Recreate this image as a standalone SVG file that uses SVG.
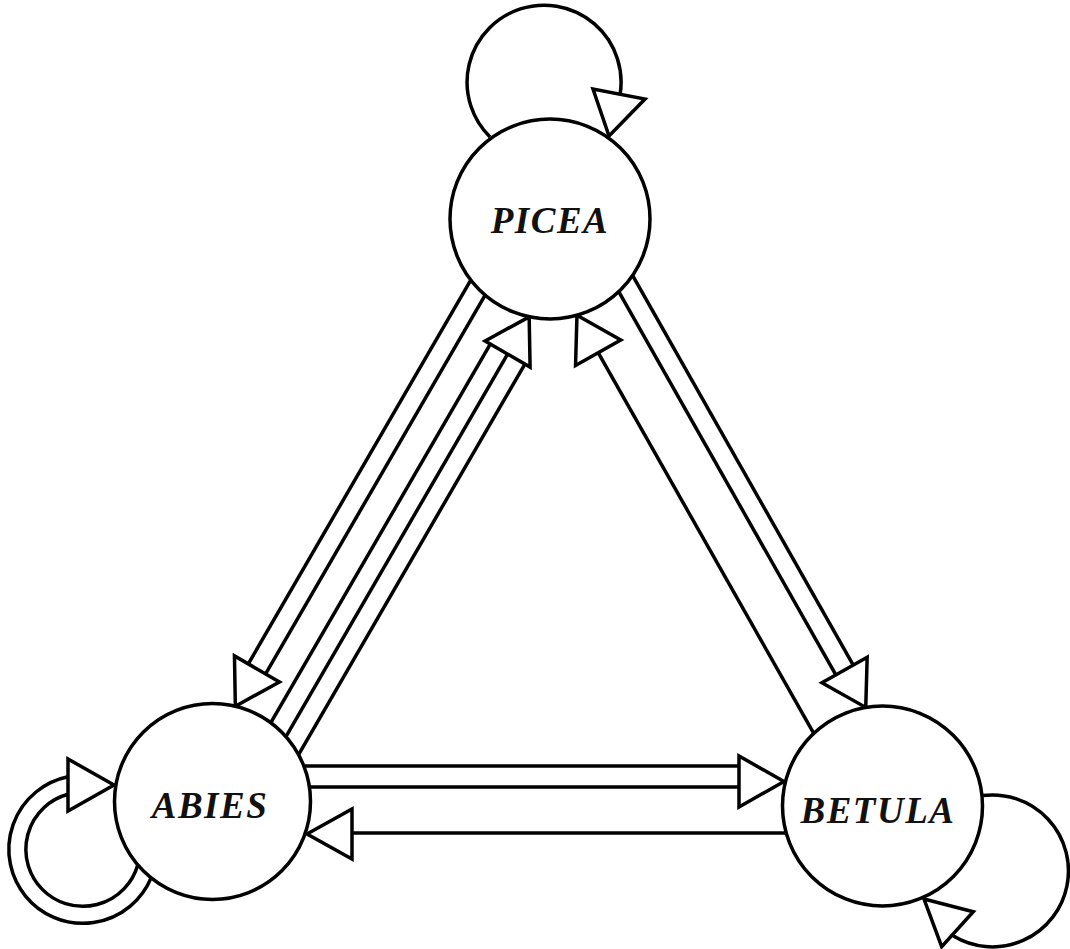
<svg xmlns="http://www.w3.org/2000/svg" width="1070" height="949" viewBox="0 0 1070 949">
<defs>
<style>
.n{fill:#fff;stroke:#000;stroke-width:3.5}
.e{fill:none;stroke:#000;stroke-width:3.5}
.h{fill:#fff;stroke:#000;stroke-width:3.5;stroke-linejoin:miter}
.t{font-family:"Liberation Serif","Times New Roman",serif;font-style:italic;font-weight:bold;font-size:37px;fill:#111;text-anchor:middle;letter-spacing:1.5px}
</style>
</defs>
<rect width="1070" height="949" fill="#fff"/>
<g id="connectors">
  <g id="edges-abies-picea" transform="translate(212.5 801.5) rotate(-59.91)">
    <line class="e" x1="137" y1="-38" x2="580.7" y2="-38"/>
    <line class="e" x1="137" y1="-18" x2="574.8" y2="-18"/>
    <polygon class="h" points="93.9,-28 137,-54 137,-2"/>
    <line class="e" x1="97.4" y1="11" x2="535.1" y2="11"/>
    <line class="e" x1="93.0" y1="31" x2="535.1" y2="31"/>
    <line class="e" x1="83.7" y1="51" x2="535.1" y2="51"/>
    <polygon class="h" points="578.1,31 535.1,5 535.1,57"/>
  </g>
  <g id="edges-picea-betula" transform="translate(550 219) rotate(60.47)">
    <line class="e" x1="140.1" y1="24" x2="577.5" y2="24"/>
    <polygon class="h" points="97.1,24 140.1,-2 140.1,50"/>
    <line class="e" x1="97.1" y1="-24" x2="537.6" y2="-24"/>
    <line class="e" x1="89.8" y1="-44" x2="537.6" y2="-44"/>
    <polygon class="h" points="580.6,-34 537.6,-60 537.6,-8"/>
  </g>
  <g id="edges-abies-betula">
    <line class="e" x1="303.8" y1="766" x2="739" y2="766"/>
    <line class="e" x1="309.4" y1="787" x2="739" y2="787"/>
    <polygon class="h" points="784,781.5 739,756 739,807"/>
    <line class="e" x1="786.2" y1="833" x2="352" y2="833"/>
    <polygon class="h" points="307,834 352,809 352,859"/>
  </g>
  <g id="loop-picea">
    <path class="e" d="M490 137 A77 77 0 1 1 620 95"/>
    <polygon class="h" points="609,136 593,89 645,99"/>
  </g>
  <g id="loop-abies">
    <path class="e" d="M68 776.8 A74 74 0 1 0 151.1 877.9"/>
    <path class="e" d="M68 794.3 A57 57 0 1 0 137.7 864.9"/>
    <polygon class="h" points="114,785 68,759 68,811"/>
  </g>
  <g id="loop-betula">
    <path class="e" d="M982.1 795.6 A76 76 0 1 1 953.4 936.1"/>
    <polygon class="h" points="924,899 973.3,911.7 941.7,946.7"/>
  </g>
</g>
<g id="node-picea">
  <circle class="n" cx="550" cy="219" r="100"/>
  <text class="t" x="550" y="233">PICEA</text>
</g>
<g id="node-abies">
  <circle class="n" cx="212.5" cy="801.5" r="98"/>
  <text class="t" x="210" y="818">ABIES</text>
</g>
<g id="node-betula">
  <circle class="n" cx="882.5" cy="806" r="100"/>
  <text class="t" x="878" y="823">BETULA</text>
</g>
</svg>
